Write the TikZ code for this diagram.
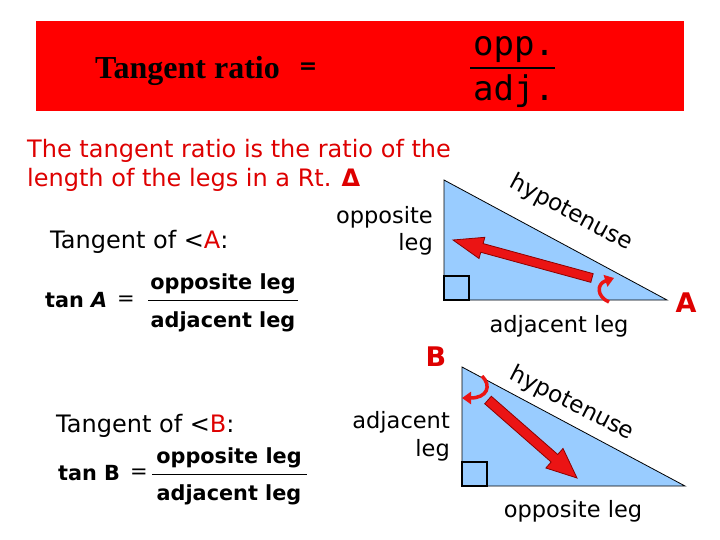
\documentclass[tikz,border=0pt]{standalone}
\usepackage{fontspec}
\setmainfont{DejaVu Sans}
\newfontfamily\monofont{DejaVu Sans Mono}
\newfontfamily\titlefont{Liberation Serif}
\usetikzlibrary{calc,arrows.meta}
\definecolor{banner}{RGB}{255,0,0}
\definecolor{txtred}{RGB}{222,0,0}
\definecolor{triblue}{RGB}{153,204,255}
\definecolor{arrred}{RGB}{235,20,20}
\definecolor{arrdark}{RGB}{140,0,0}
\begin{document}
\begin{tikzpicture}[x=1pt,y=-1pt,
  bodytext/.style={font=\fontsize{24}{28}\selectfont, inner sep=0pt},
  labeltext/.style={font=\fontsize{22.5}{26}\selectfont, inner sep=0pt},
  formtext/.style={font=\bfseries\fontsize{20.8}{24}\selectfont, inner sep=0pt},
  hyptext/.style={font=\fontsize{23}{26}\selectfont, inner sep=0pt},
  vertexlbl/.style={font=\bfseries\fontsize{27}{30}\selectfont, text=txtred, inner sep=0pt},
  tri/.style={fill=triblue, draw=black, line width=0.8pt},
  rightsq/.style={draw=black, line width=2.4pt},
  bigarrow/.style={fill=arrred, draw=arrdark, line width=0.8pt, line join=miter},
  curvearrow/.style={draw=arrred, line width=3.5pt, -{Triangle[length=9pt,width=12pt]}},
  fracbar/.style={line width=0.9pt}]
\useasboundingbox (0,0) rectangle (720,540);
\fill[white] (0,0) rectangle (720,540);

% banner
\fill[banner] (36,21) rectangle (684,111);
\node[anchor=base west, inner sep=0pt, font=\titlefont\bfseries\fontsize{32}{34}\selectfont] (title) at (95,79) {Tangent ratio};
\node[inner sep=0pt, font=\bfseries\fontsize{22}{24}\selectfont] (titleeq) at (308,68) {=};
\node[anchor=base, inner sep=0pt, font=\monofont\fontsize{34}{38}\selectfont] (opp) at (514,56) {opp.};
\node[anchor=base, inner sep=0pt, font=\monofont\fontsize{34}{38}\selectfont] (adj) at (514,101) {adj.};
\draw[line width=1.2pt] (470,68) -- (555,68);

% paragraph
\node[bodytext, text=txtred, anchor=base west] (p1) at (27,158) {The tangent ratio is the ratio of the};
\node[bodytext, text=txtred, anchor=base west] (p2) at (27,187) {length of the legs in a Rt. \textbf{Δ}};

% Tangent of A
\node[bodytext, anchor=base west] (tanofA) at (50,248) {Tangent of <\textcolor{txtred}{A}:};
\node[formtext, anchor=base west] (tanA) at (45,307) {tan \textit{A}};
\node[inner sep=0pt, font=\fontsize{21}{24}\selectfont] (eqA) at (126,301) {=};
\node[formtext, anchor=base] (numA) at (223,289) {opposite leg};
\node[formtext, anchor=base] (denA) at (223,327) {adjacent leg};
\draw[fracbar] (148,300) -- (298,300);

% Tangent of B
\node[bodytext, anchor=base west] (tanofB) at (56,432) {Tangent of <\textcolor{txtred}{B}:};
\node[formtext, anchor=base west] (tanB) at (58,480) {tan B};
\node[inner sep=0pt, font=\fontsize{21}{24}\selectfont] (eqB) at (139,474) {=};
\node[formtext, anchor=base] (numB) at (229,463) {opposite leg};
\node[formtext, anchor=base] (denB) at (229,500) {adjacent leg};
\draw[fracbar] (152,474) -- (307,474);

% triangle 1
\coordinate (t1top) at (444,180);
\coordinate (t1rt) at (444,300);
\coordinate (t1A) at (667,300);
\draw[tri] (t1top) -- (t1rt) -- (t1A) -- cycle;
\draw[rightsq] (444,300) rectangle (469,276);
\node[hyptext, rotate=-28] (hyp1) at (571,213) {hypotenuse};
\node[labeltext, anchor=base east] (opp1) at (433,223) {opposite};
\node[labeltext, anchor=base east] (opp1b) at (433,250) {leg};
\node[labeltext, anchor=base] (adj1) at (559,332) {adjacent leg};
\node[vertexlbl, anchor=base] (lblA) at (686,312) {A};
\coordinate (a1tail) at (592,278);
\coordinate (a1tip) at (453,240);
\coordinate (a1neck) at ($(a1tip)!30pt!(a1tail)$);
\draw[bigarrow] ($(a1tail)!4.5pt!90:(a1tip)$) -- ($(a1neck)!4.5pt!90:(a1tip)$) -- ($(a1neck)!11pt!90:(a1tip)$) -- (a1tip) -- ($(a1neck)!11pt!-90:(a1tip)$) -- ($(a1neck)!4.5pt!-90:(a1tip)$) -- ($(a1tail)!4.5pt!-90:(a1tip)$) -- cycle;
\coordinate (c1s) at (609,302);
\coordinate (c1e) at (614,278);
\draw[curvearrow] (c1s) .. controls (597,297) and (596,284) .. (c1e);

% triangle 2
\coordinate (t2B) at (462,367);
\coordinate (t2rt) at (462,486);
\coordinate (t2r) at (685,486);
\draw[tri] (t2B) -- (t2rt) -- (t2r) -- cycle;
\draw[rightsq] (462,486) rectangle (487,462);
\node[hyptext, rotate=-27] (hyp2) at (572,404) {hypotenuse};
\node[labeltext, anchor=base east] (adj2) at (450,428) {adjacent};
\node[labeltext, anchor=base east] (adj2b) at (450,456) {leg};
\node[labeltext, anchor=base] (opp2) at (573,517) {opposite leg};
\node[vertexlbl, anchor=base] (lblB) at (436,366) {B};
\coordinate (a2tail) at (488,400);
\coordinate (a2tip) at (577,478);
\coordinate (a2neck) at ($(a2tip)!30pt!(a2tail)$);
\draw[bigarrow] ($(a2tail)!5pt!90:(a2tip)$) -- ($(a2neck)!5pt!90:(a2tip)$) -- ($(a2neck)!13pt!90:(a2tip)$) -- (a2tip) -- ($(a2neck)!13pt!-90:(a2tip)$) -- ($(a2neck)!5pt!-90:(a2tip)$) -- ($(a2tail)!5pt!-90:(a2tip)$) -- cycle;
\coordinate (c2s) at (482,376);
\coordinate (c2e) at (462,398);
\draw[curvearrow] (c2s) .. controls (492,386) and (487,398) .. (c2e);
\end{tikzpicture}
\end{document}
